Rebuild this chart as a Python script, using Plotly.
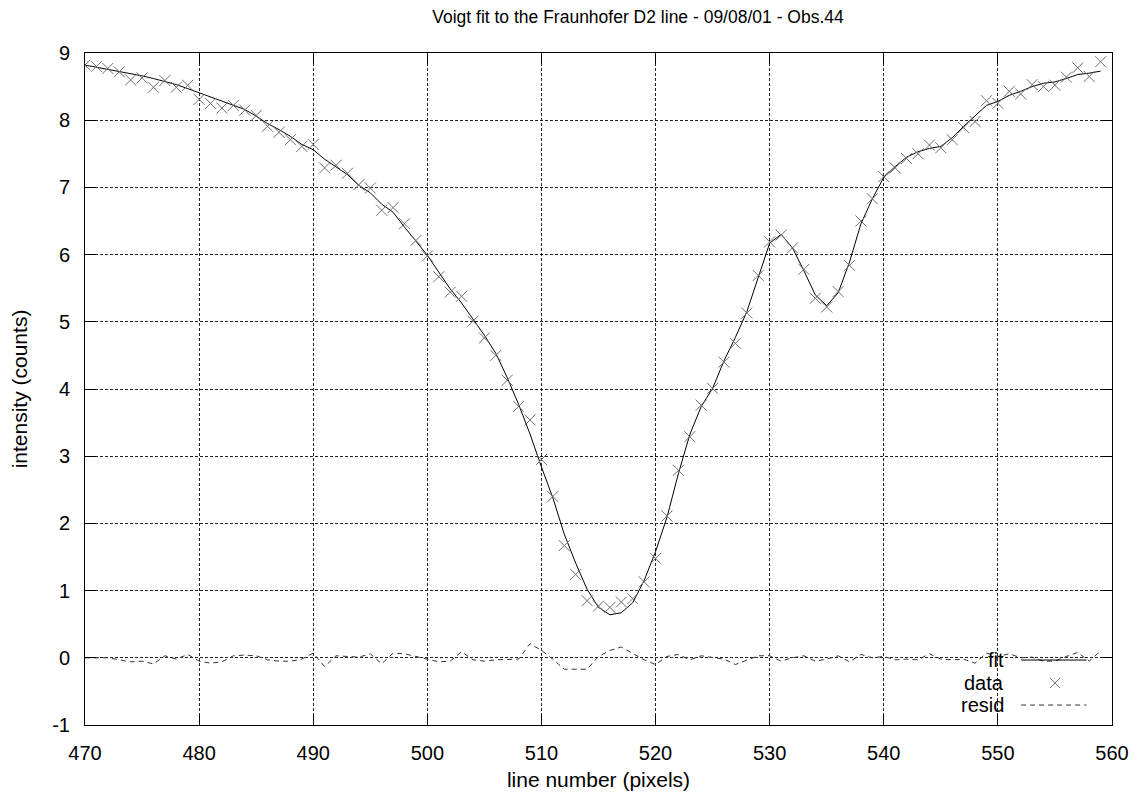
import plotly.graph_objects as go

# ---- data ----
pixels = list(range(470, 560))

data_vals = [
    8.82, 8.80, 8.77, 8.72, 8.60, 8.63, 8.49, 8.59, 8.49, 8.52,   # 470-479
    8.31, 8.25, 8.18, 8.22, 8.15, 8.07, 7.91, 7.82, 7.71, 7.61,   # 480-489
    7.64, 7.29, 7.33, 7.21, 7.04, 6.99, 6.66, 6.70, 6.46, 6.21,   # 490-499
    5.98, 5.67, 5.44, 5.38, 5.01, 4.76, 4.50, 4.13, 3.74, 3.54,   # 500-509
    2.95, 2.40, 1.67, 1.24, 0.85, 0.77, 0.75, 0.83, 0.88, 1.13,   # 510-519
    1.48, 2.11, 2.79, 3.29, 3.76, 4.01, 4.40, 4.68, 5.13, 5.69,   # 520-529
    6.19, 6.29, 6.10, 5.78, 5.35, 5.22, 5.45, 5.84, 6.50, 6.83,   # 530-539
    7.16, 7.29, 7.43, 7.50, 7.63, 7.59, 7.71, 7.89, 7.98, 8.29,   # 540-549
    8.25, 8.43, 8.39, 8.53, 8.50, 8.52, 8.64, 8.78, 8.65, 8.87,   # 550-559
]

fit_vals = [
    8.82, 8.79, 8.76, 8.73, 8.69, 8.66, 8.62, 8.58, 8.53, 8.47,   # 470-479
    8.41, 8.34, 8.28, 8.23, 8.16, 8.06, 7.95, 7.86, 7.76, 7.64,   # 480-489
    7.56, 7.42, 7.30, 7.19, 7.03, 6.92, 6.75, 6.63, 6.41, 6.20,   # 490-499
    5.99, 5.74, 5.49, 5.28, 5.04, 4.80, 4.53, 4.17, 3.77, 3.33,   # 500-509
    2.84, 2.38, 1.84, 1.41, 1.02, 0.75, 0.64, 0.67, 0.82, 1.15,   # 510-519
    1.58, 2.09, 2.74, 3.32, 3.74, 4.01, 4.42, 4.77, 5.15, 5.67,   # 520-529
    6.17, 6.30, 6.10, 5.76, 5.40, 5.24, 5.43, 5.89, 6.46, 6.83,   # 530-539
    7.15, 7.31, 7.45, 7.53, 7.58, 7.61, 7.74, 7.91, 8.06, 8.22,   # 540-549
    8.28, 8.37, 8.43, 8.50, 8.55, 8.57, 8.62, 8.68, 8.70, 8.73,   # 550-559
]

resid_vals = [
    0.00, 0.00, 0.00, -0.03, -0.06, -0.05, -0.09, 0.03, -0.02, 0.05,   # 470-479
    -0.05, -0.08, -0.06, 0.03, 0.04, 0.03, -0.03, -0.05, -0.05, -0.02, # 480-489
    0.07, -0.13, 0.03, 0.02, 0.01, 0.06, -0.09, 0.07, 0.06, 0.02,      # 490-499
    -0.02, -0.06, -0.05, 0.09, -0.03, -0.05, -0.03, -0.03, -0.02, 0.21, # 500-509
    0.11, -0.02, -0.17, -0.17, -0.17, 0.02, 0.11, 0.16, 0.06, -0.03,   # 510-519
    -0.10, 0.02, 0.05, -0.03, 0.03, 0.00, -0.02, -0.10, -0.03, 0.03,   # 520-529
    0.03, -0.05, 0.00, 0.03, -0.05, -0.02, 0.03, -0.06, 0.05, 0.00,    # 530-539
    0.02, -0.03, -0.02, -0.03, 0.06, -0.02, -0.03, -0.02, -0.08, 0.07, # 540-549
    0.02, 0.06, 0.00, 0.01, -0.05, -0.05, 0.02, 0.08, -0.05, 0.10,     # 550-559
]

x_ticks = [470, 480, 490, 500, 510, 520, 530, 540, 550, 560]
y_ticks = [-1, 0, 1, 2, 3, 4, 5, 6, 7, 8, 9]

legend_names = ["fit", "data", "resid"]

FONT = "Liberation Sans, Arial, sans-serif"
CROSS = "#6e6e6e"

fig = go.Figure()

fig.add_trace(go.Scatter(
    x=pixels, y=resid_vals, mode="lines", name="resid",
    line=dict(color="#333333", width=1, dash="5px,4px"),
))
fig.add_trace(go.Scatter(
    x=pixels, y=fit_vals, mode="lines", name="fit",
    line=dict(color="black", width=1),
))
fig.add_trace(go.Scatter(
    x=pixels, y=data_vals, mode="markers", name="data",
    marker=dict(symbol="x-thin-open", size=11, color=CROSS,
                line=dict(color=CROSS, width=1)),
))

axis_common = dict(
    showline=True, linecolor="black", linewidth=1, mirror="ticks",
    ticks="inside", ticklen=11, tickcolor="black", tickwidth=1,
    showgrid=True, gridcolor="#222222", gridwidth=1, griddash="3px,2px",
    zeroline=False, automargin=False,
    tickfont=dict(family=FONT, size=20, color="black"),
)

fig.update_xaxes(
    range=[470, 560], tickvals=x_ticks, ticktext=[str(v) for v in x_ticks],
    ticklabelstandoff=10,
    title=dict(text="line number (pixels)", font=dict(family=FONT, size=21, color="black"),
               standoff=9),
    **axis_common,
)
fig.update_yaxes(
    range=[-1, 9], tickvals=y_ticks, ticktext=[str(v) for v in y_ticks],
    ticklabelstandoff=10,
    title=dict(text="intensity (counts)", font=dict(family=FONT, size=21, color="black"),
               standoff=18),
    **axis_common,
)

# gnuplot-style key (text right-aligned, sample to the right)
row_y = [0.0967, 0.0625, 0.0297]
for name, yy in zip(legend_names, row_y):
    fig.add_annotation(xref="paper", yref="paper", x=0.897, y=yy, text=name,
                       showarrow=False, xanchor="right", yanchor="middle",
                       font=dict(family=FONT, size=20, color="black"))
fig.add_shape(type="line", xref="paper", yref="paper", x0=0.9115, x1=0.9752,
              y0=row_y[0], y1=row_y[0], line=dict(color="black", width=1))
fig.add_shape(type="line", xref="paper", yref="paper", x0=0.9115, x1=0.9752,
              y0=row_y[2], y1=row_y[2], line=dict(color="#333333", width=1, dash="5px,4px"))
cx, cy, dx, dy = 0.9446, row_y[1], 5 / 1027, 5 / 672
fig.add_shape(type="line", xref="paper", yref="paper", x0=cx - dx, x1=cx + dx,
              y0=cy - dy, y1=cy + dy, line=dict(color=CROSS, width=1))
fig.add_shape(type="line", xref="paper", yref="paper", x0=cx - dx, x1=cx + dx,
              y0=cy + dy, y1=cy - dy, line=dict(color=CROSS, width=1))

fig.update_layout(
    width=1139, height=795,
    margin=dict(l=85, r=27, t=53, b=70),
    paper_bgcolor="white", plot_bgcolor="white",
    showlegend=False,
    title=dict(text="Voigt fit to the Fraunhofer D2 line - 09/08/01 - Obs.44",
               x=638 / 1139, xref="container", y=1 - 17 / 795, yref="container",
               xanchor="center", yanchor="middle",
               font=dict(family=FONT, size=17.5, color="black")),
)

fig.write_html("out.html")
